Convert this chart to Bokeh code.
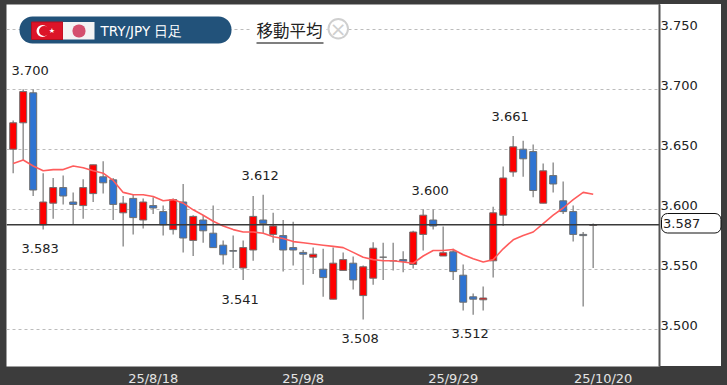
from bokeh.plotting import figure
from bokeh.models import (ColumnDataSource, Range1d, LinearAxis, FixedTicker, Grid, Span,
                          BoxAnnotation, Label, NumeralTickFormatter)
from bokeh.core.properties import value
from bokeh.embed import file_html
from bokeh.resources import INLINE

opens = [3.650,3.672,3.697,3.587,3.605,3.618,3.606,3.603,3.613,3.627,3.6245,3.597,3.609,3.591,3.603,3.598,3.583,3.606,3.574,3.591,
         3.580,3.570,3.5655,3.551,3.566,3.591,3.579,3.578,3.568,3.564,3.560,3.550,3.525,3.549,3.555,3.528,3.5425,3.560,3.557,3.558,
         3.554,3.579,3.591,3.561,3.5645,3.545,3.527,3.5245,3.557,3.595,3.631,3.650,3.648,3.605,3.628,3.607,3.598,3.579,3.5865]
closes = [3.672,3.698,3.616,3.606,3.618,3.611,3.604,3.618,3.637,3.622,3.604,3.605,3.593,3.606,3.601,3.587,3.608,3.576,3.594,3.582,
          3.568,3.562,3.565,3.568,3.594,3.588,3.586,3.566,3.566,3.5625,3.5625,3.543,3.555,3.558,3.541,3.552,3.5675,3.560,3.557,3.5567,
          3.581,3.595,3.586,3.5637,3.548,3.5225,3.525,3.526,3.597,3.626,3.652,3.642,3.6156,3.632,3.621,3.598,3.579,3.578,3.587]
highs = [3.674,3.700,3.700,3.630,3.626,3.628,3.614,3.625,3.637,3.640,3.626,3.611,3.612,3.609,3.610,3.603,3.609,3.621,3.595,3.595,
         3.603,3.574,3.578,3.574,3.611,3.612,3.597,3.591,3.5895,3.566,3.568,3.567,3.568,3.564,3.5605,3.553,3.5725,3.572,3.572,3.565,
         3.582,3.600,3.600,3.5855,3.567,3.554,3.5297,3.5356,3.602,3.6356,3.661,3.657,3.654,3.638,3.639,3.623,3.603,3.581,3.588]
lows = [3.630,3.641,3.611,3.583,3.592,3.604,3.587,3.592,3.606,3.613,3.591,3.569,3.579,3.584,3.596,3.578,3.579,3.564,3.561,3.572,
        3.568,3.554,3.551,3.541,3.557,3.580,3.572,3.548,3.553,3.537,3.546,3.527,3.525,3.549,3.533,3.508,3.537,3.541,3.549,3.5475,
        3.5505,3.5655,3.583,3.561,3.541,3.5156,3.512,3.5156,3.543,3.586,3.627,3.627,3.610,3.605,3.614,3.596,3.573,3.519,3.551]
ma = [3.638,3.641,3.636,3.632,3.633,3.633,3.636,3.6345,3.632,3.630,3.624,3.614,3.612,3.612,3.6106,3.607,3.608,3.605,3.5995,3.595,
      3.590,3.586,3.583,3.581,3.581,3.580,3.577,3.5756,3.573,3.572,3.571,3.570,3.569,3.568,3.564,3.560,3.558,3.557,3.557,3.556,
      3.555,3.561,3.5656,3.5656,3.5664,3.562,3.5587,3.556,3.558,3.567,3.5745,3.578,3.581,3.588,3.595,3.601,3.608,3.614,3.6125]
last_price = 3.587
price_ticks = [3.50, 3.55, 3.60, 3.65, 3.70, 3.75]
date_ticks = [14, 29, 44, 59]
date_labels = ["25/8/18", "25/9/8", "25/9/29", "25/10/20"]
high_marks = [(2, 3.700), (25, 3.612), (42, 3.600), (50, 3.661)]
low_marks = [(3, 3.583), (23, 3.541), (35, 3.508), (46, 3.512)]
title = "TRY/JPY 日足"
ma_title = "移動平均"

idx = list(range(len(opens)))
UP, DOWN = "#ff0000", "#2f74d2"
src = ColumnDataSource(dict(x=idx, o=opens, c=closes, h=highs, l=lows,
                            top=[max(a, b) for a, b in zip(opens, closes)],
                            bot=[min(a, b) for a, b in zip(opens, closes)],
                            col=[UP if c >= o else DOWN for o, c in zip(opens, closes)]))

FONT = "DejaVu Sans"
YS, YE = 3.46892, 3.77058
p = figure(width=727, height=385, frame_width=653, frame_height=362,
           output_backend="svg", toolbar_location=None,
           x_range=Range1d(-0.67, 64.63), y_range=Range1d(YS, YE),
           x_axis_location=None, y_axis_location=None,
           min_border_left=6, min_border_top=4, min_border_right=68, min_border_bottom=19,
           border_fill_alpha=0, background_fill_color="#ffffff", outline_line_color=None)
# dark surround, white panel behind the price axis, rounded frame of the price tag
tag = ("url(\"data:image/svg+xml,%3Csvg xmlns='http://www.w3.org/2000/svg' width='61' height='21'%3E"
       "%3Crect x='0.5' y='0.5' width='59.5' height='19.5' rx='6' fill='white' stroke='%23111111'/%3E%3C/svg%3E\")"
       " 661px 213px / 61px 21px no-repeat")
p.styles = {"position": "fixed", "left": "0px", "top": "0px",
            "background": tag + ", linear-gradient(#ffffff,#ffffff) 660px 4px / 61px 362px no-repeat #3c3c3c"}
p.grid.visible = False

def cbox(l, r, t, b, fill, line=None, lw=1, radius=0, level="annotation"):
    box = BoxAnnotation(left=l, right=r, top=t, bottom=b,
                        left_units="canvas", right_units="canvas", top_units="canvas", bottom_units="canvas",
                        fill_color=fill, fill_alpha=1, line_color=line, line_width=lw, line_alpha=1,
                        border_radius=radius, level=level, editable=False)
    p.add_layout(box)
    return box

# the price axis carries the tag's text too; its tick sits where the tag's text is centred
tag_tick = 3.585
p.extra_y_ranges = {"labels": Range1d(YS - 0.0028, YE - 0.0028)}
yax = LinearAxis(y_range_name="labels", ticker=FixedTicker(ticks=price_ticks + [tag_tick]), major_tick_line_color=None,
                 major_tick_out=0, major_tick_in=0, minor_tick_out=0, minor_tick_in=0,
                 minor_tick_line_color=None, axis_line_color="#555555", axis_line_width=2,
                 major_label_standoff=1, major_label_text_font=FONT, major_label_text_font_size="13px",
                 major_label_text_color="#222222", formatter=NumeralTickFormatter(format="0.000"),
                 major_label_overrides={tag_tick: "\u2009" + f"{last_price:.3f}"})
p.add_layout(yax, "right")

xax = LinearAxis(ticker=FixedTicker(ticks=date_ticks),
                 major_label_overrides={k: v for k, v in zip(date_ticks, date_labels)},
                 major_tick_out=0, major_tick_in=0, minor_tick_out=0, minor_tick_in=0,
                 major_tick_line_color=None, minor_tick_line_color=None, axis_line_color=None,
                 major_label_standoff=4, major_label_text_font=FONT, major_label_text_font_size="13px",
                 major_label_text_color="#e4e4e4")
p.add_layout(xax, "below")

p.add_layout(Grid(dimension=1, ticker=FixedTicker(ticks=price_ticks), grid_line_color="#bcbcbc",
                  grid_line_dash="3 3", grid_line_width=1, level="underlay"))

p.segment("x", "h", "x", "l", source=src, line_color="#9a9a9a", line_width=1.6)
p.vbar("x", 0.7, "bot", "top", source=src, fill_color="col", line_color="#6e6e6e", line_width=1)
p.line(idx, ma, line_color="#ff5c5c", line_width=1.6)
p.add_layout(Span(location=last_price, dimension="width", line_color="#3a3a3a", line_width=1.5))

# high / low labels
p.text([m[0] for m in high_marks], [m[1] for m in high_marks], text=[f"{m[1]:.3f}" for m in high_marks],
       x_offset=-3, y_offset=-19, text_align="center", text_baseline="middle",
       text_font=value(FONT), text_font_size="13px", text_color="#222222")
p.text([m[0] for m in low_marks], [m[1] for m in low_marks], text=[f"{m[1]:.3f}" for m in low_marks],
       x_offset=-3, y_offset=19, text_align="center", text_baseline="middle",
       text_font=value(FONT), text_font_size="13px", text_color="#222222")

# header pill
cbox(19, 231, 16, 43, "#22527a", radius=13)
cbox(31, 62.5, 21.5, 39, "#dc1428", line="#b01020")
cbox(36, 48, 24.5, 36.5, "#ffffff", radius=6)
cbox(38.5, 49, 25.5, 35.5, "#dc1428", radius=5)
p.add_layout(Label(x=51.5, y=30.3, x_units="canvas", y_units="canvas", text="★", text_color="#ffffff",
                   text_font=FONT, text_font_size="7px", text_align="center", text_baseline="middle"))
cbox(62.5, 94, 21.5, 39, "#f4f4f4")
cbox(72, 85, 24, 37, "#d4506e", radius=6)
p.add_layout(Label(x=100, y=30, x_units="canvas", y_units="canvas", text=title, text_color="#ffffff",
                   text_font="DejaVu Sans", text_font_size="13.5px", text_baseline="middle"))

# moving-average switch
cbox(250, 326, 17, 41, "#ffffff", line=None)
p.add_layout(Label(x=256, y=29, x_units="canvas", y_units="canvas", text=ma_title, text_color="#222222",
                   text_font="Noto Sans CJK JP", text_font_size="16.5px", text_baseline="middle"))
cbox(256, 323, 42, 43, "#000000")
cbox(328, 347.5, 18.5, 38, "#ffffff", line="#cfcfcf", lw=2, radius=10)
p.add_layout(Label(x=337.7, y=28.5, x_units="canvas", y_units="canvas", text="×", text_color="#cfcfcf",
                   text_font=FONT, text_font_size="20px", text_align="center", text_baseline="middle"))

open("out.html", "w").write(file_html(p, INLINE))
